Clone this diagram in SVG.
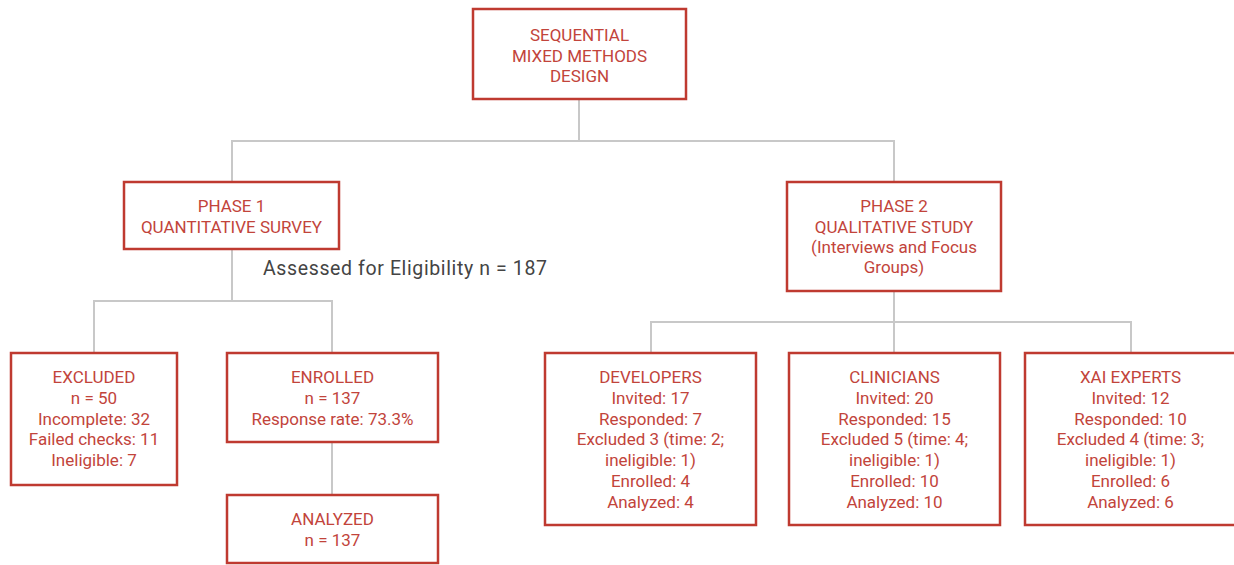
<svg xmlns="http://www.w3.org/2000/svg" width="1234" height="565" viewBox="0 0 1234 565">
<style>
.box{fill:#fff;stroke:#bf3a30;stroke-width:2.5}
.t{font-family:Roboto,"Liberation Sans",sans-serif;font-size:17px;fill:#c2443b;text-anchor:middle}
.lbl{font-family:Roboto,"Liberation Sans",sans-serif;font-size:19.5px;fill:#444}
.c{fill:none;stroke:#c8c8c8;stroke-width:2}
</style>
<rect width="1234" height="565" fill="#fff"/>
<g id="connectors">
<path class="c" d="M579 99V141M232 182V141H894V182"/>
<path class="c" d="M232 249V301M94 353V301H332V353M332 442V495"/>
<path class="c" d="M894 291V322M651 353V322H1131V353M894 322V353"/>
</g>
<g id="design"><rect class="box" x="473" y="9" width="213" height="90"/>
<text class="t" x="579.5" y="41">SEQUENTIAL</text><text class="t" x="579.5" y="61.5">MIXED METHODS</text><text class="t" x="579.5" y="82">DESIGN</text></g>
<g id="phase1"><rect class="box" x="124" y="182" width="215" height="67"/>
<text class="t" x="231.5" y="212">PHASE 1</text><text class="t" x="231.5" y="233">QUANTITATIVE SURVEY</text></g>
<text class="lbl" x="263" y="275" textLength="284" lengthAdjust="spacing">Assessed for Eligibility n = 187</text>
<g id="phase2"><rect class="box" x="787" y="182" width="214" height="109"/>
<text class="t" x="894" y="212">PHASE 2</text><text class="t" x="894" y="233">QUALITATIVE STUDY</text><text class="t" x="894" y="253">(Interviews and Focus</text><text class="t" x="894" y="273">Groups)</text></g>
<g id="excluded"><rect class="box" x="11" y="353" width="166" height="132"/>
<text class="t" x="94" y="383">EXCLUDED</text><text class="t" x="94" y="404">n = 50</text><text class="t" x="94" y="424.5">Incomplete: 32</text><text class="t" x="94" y="445">Failed checks: 11</text><text class="t" x="94" y="466">Ineligible: 7</text></g>
<g id="enrolled"><rect class="box" x="227" y="353" width="211" height="89"/>
<text class="t" x="332.5" y="383">ENROLLED</text><text class="t" x="332.5" y="404">n = 137</text><text class="t" x="332.5" y="424.5">Response rate: 73.3%</text></g>
<g id="analyzed"><rect class="box" x="227" y="495" width="211" height="68"/>
<text class="t" x="332.5" y="525">ANALYZED</text><text class="t" x="332.5" y="546">n = 137</text></g>
<g id="developers"><rect class="box" x="545" y="353" width="211" height="172"/>
<text class="t" x="650.5" y="383">DEVELOPERS</text><text class="t" x="650.5" y="404">Invited: 17</text><text class="t" x="650.5" y="424.5">Responded: 7</text><text class="t" x="650.5" y="445">Excluded 3 (time: 2;</text><text class="t" x="650.5" y="466">ineligible: 1)</text><text class="t" x="650.5" y="486.5">Enrolled: 4</text><text class="t" x="650.5" y="507.5">Analyzed: 4</text></g>
<g id="clinicians"><rect class="box" x="789" y="353" width="211" height="172"/>
<text class="t" x="894.5" y="383">CLINICIANS</text><text class="t" x="894.5" y="404">Invited: 20</text><text class="t" x="894.5" y="424.5">Responded: 15</text><text class="t" x="894.5" y="445">Excluded 5 (time: 4;</text><text class="t" x="894.5" y="466">ineligible: 1)</text><text class="t" x="894.5" y="486.5">Enrolled: 10</text><text class="t" x="894.5" y="507.5">Analyzed: 10</text></g>
<g id="xai"><rect class="box" x="1025" y="353" width="211" height="172"/>
<text class="t" x="1130.5" y="383">XAI EXPERTS</text><text class="t" x="1130.5" y="404">Invited: 12</text><text class="t" x="1130.5" y="424.5">Responded: 10</text><text class="t" x="1130.5" y="445">Excluded 4 (time: 3;</text><text class="t" x="1130.5" y="466">ineligible: 1)</text><text class="t" x="1130.5" y="486.5">Enrolled: 6</text><text class="t" x="1130.5" y="507.5">Analyzed: 6</text></g>
</svg>
